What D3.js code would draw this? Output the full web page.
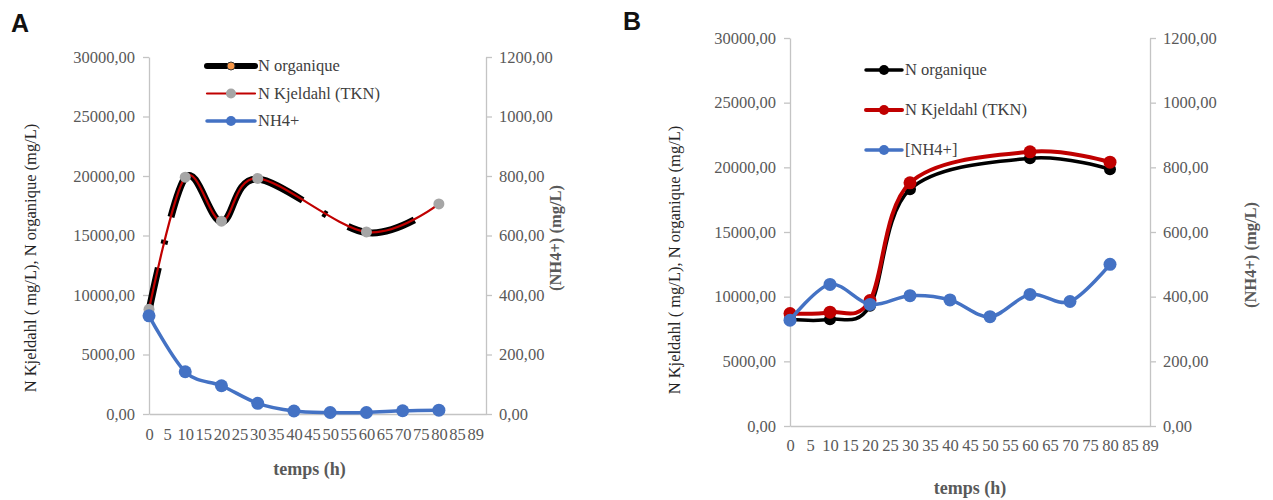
<!DOCTYPE html>
<html>
<head>
<meta charset="utf-8">
<script src="https://cdn.jsdelivr.net/npm/d3@7"></script>
<style>
  body { margin: 0; background: #fff; }
  svg text { font-family: "Liberation Serif", "Times New Roman", "DejaVu Serif", serif !important; }
  svg text.letter { font-family: "Liberation Sans", Arial, sans-serif !important; }
</style>
</head>
<body>
<svg id="svg" width="1273" height="500"></svg>
<script>
// tick labels of the time axis (evenly spaced, the last one reads 89)
const xLabels = ["0", "5", "10", "15", "20", "25", "30", "35", "40", "45", "50", "55", "60", "65", "70", "75", "80", "85", "89"];
const leftTicks = [0, 5000, 10000, 15000, 20000, 25000, 30000];
const rightTicks = [0, 200, 400, 600, 800, 1000, 1200];

// panel A
const timeA = [0, 10, 20, 30, 60, 80];
const tknA = [8800, 19900, 16200, 19800, 15300, 17650];
const orgA = [8700, 19850, 16150, 19750, 15250, 17600];
const timeNh4A = [0, 10, 20, 30, 40, 50, 60, 70, 80];
const nh4A = [330, 142, 95, 36, 10, 5, 5, 11, 13];

// panel B
const timeB = [0, 10, 20, 30, 60, 80];
const tknB = [8700, 8800, 9700, 18800, 21200, 20400];
const orgB = [8250, 8250, 9300, 18300, 20700, 19850];
const timeNh4B = [0, 10, 20, 30, 40, 50, 60, 70, 80];
const nh4B = [327, 438, 376, 403, 390, 338, 407, 385, 500];

const fmt = v => d3.format(".2f")(v).replace(".", ",");
const gridGrey = "#c4c4c4";
const labelGrey = "#595959";
const serif = "'Liberation Serif', 'Times New Roman', serif";

svg = d3.select("#svg");

function zip(ts, vs) {
    return ts.map((t, i) => ({ t: t, v: vs[i] }));
}

function panel_axes(p) {
    const g = svg.append("g");
    xScale = d3.scaleLinear().domain([0, p.xMax]).range([p.left, p.right]);
    yScale = d3.scaleLinear().domain([0, 30000]).range([p.bottom, p.top]);
    y2Scale = d3.scaleLinear().domain([0, 1200]).range([p.bottom, p.top]);

    const xAxis = g.append("g")
        .attr("transform", `translate(0, ${p.bottom})`)
        .call(d3.axisBottom(xScale)
            .tickValues(xLabels.map((d, i) => i * 5))
            .tickFormat((d, i) => xLabels[i])
            .tickSize(0).tickPadding(p.xPad));
    const yAxis = g.append("g")
        .attr("transform", `translate(${p.left}, 0)`)
        .call(d3.axisLeft(yScale).tickValues(leftTicks).tickFormat(fmt)
            .tickSize(6).tickSizeOuter(0).tickPadding(8));
    const y2Axis = g.append("g")
        .attr("transform", `translate(${p.right}, 0)`)
        .call(d3.axisRight(y2Scale).tickValues(rightTicks).tickFormat(fmt)
            .tickSize(6).tickSizeOuter(0).tickPadding(7));

    [xAxis, yAxis, y2Axis].forEach(a => {
        a.attr("font-family", serif);
        a.select(".domain").attr("stroke", gridGrey).attr("stroke-width", 1.3);
        a.selectAll(".tick line").attr("stroke", gridGrey).attr("stroke-width", 1.3);
        a.selectAll("text").attr("fill", labelGrey).attr("font-size", 16.5)
            .style("font-family", serif);
    });

    // axis titles
    g.append("text")
        .attr("transform", `translate(${p.leftTitleX}, ${p.leftTitleY}) rotate(-90)`)
        .attr("text-anchor", "middle").attr("font-size", 16.5).attr("fill", "#262626")
        .style("font-family", serif)
        .text("N Kjeldahl ( mg/L), N organique (mg/L)");
    g.append("text")
        .attr("transform", `translate(${p.rightTitleX}, ${p.rightTitleY}) rotate(-90)`)
        .attr("text-anchor", "middle").attr("font-size", 16.5).attr("font-weight", "bold")
        .attr("fill", labelGrey)
        .style("font-family", serif)
        .text("(NH4+) (mg/L)");
    g.append("text")
        .attr("x", (p.left + p.right) / 2 + p.xTitleShift).attr("y", p.xTitleY)
        .attr("text-anchor", "middle").attr("font-size", 18).attr("font-weight", "bold")
        .attr("fill", labelGrey)
        .style("font-family", serif)
        .text("temps (h)");
    g.append("text")
        .attr("class", "letter")
        .attr("x", p.letterX).attr("y", p.letterY)
        .attr("font-size", 25).attr("font-weight", "bold").attr("fill", "#111")
        .text(p.letter);
    return g;
}

function draw_series(g, data, scale, st) {
    const line = d3.line()
        .x(d => xScale(d.t))
        .y(d => scale(d.v))
        .curve(d3.curveCardinal.tension(0));
    g.append("path")
        .datum(data)
        .attr("fill", "none")
        .attr("stroke", st.color)
        .attr("stroke-width", st.width)
        .attr("stroke-linejoin", "round")
        .attr("stroke-linecap", st.cap || "round")
        .attr("stroke-dasharray", st.dash || null)
        .attr("d", line);
    if (st.r) {
        g.selectAll(null)
            .data(data)
            .join("circle")
            .attr("cx", d => xScale(d.t))
            .attr("cy", d => scale(d.v))
            .attr("r", st.r)
            .attr("fill", st.marker);
    }
}

function draw_legend(g, items, lg) {
    items.forEach((it, i) => {
        const y = lg.y + i * lg.step;
        g.append("line")
            .attr("x1", lg.x0).attr("x2", lg.x1).attr("y1", y).attr("y2", y)
            .attr("stroke", it.color).attr("stroke-width", it.width)
            .attr("stroke-linecap", "round");
        g.append("circle")
            .attr("cx", (lg.x0 + lg.x1) / 2).attr("cy", y).attr("r", it.r)
            .attr("fill", it.marker).attr("stroke", it.ring || "none").attr("stroke-width", 1);
        g.append("text")
            .attr("x", lg.x1 + 3).attr("y", y).attr("dy", "0.33em")
            .attr("font-size", 16.5).attr("fill", "#404040")
            .style("font-family", serif)
            .text(it.name);
    });
}

// ---- panel A
const pA = { left: 149, right: 486, top: 57, bottom: 414, xMax: 93, xPad: 14,
    leftTitleX: 36, leftTitleY: 258, rightTitleX: 561, rightTitleY: 238,
    xTitleY: 475, xTitleShift: -8, letter: "A", letterX: 11, letterY: 32 };
const gA = panel_axes(pA);
const stOrgA = { color: "#000", width: 7, cap: "butt", dash: "44,24,4,24,215,24,4,24,70,300" };
const stTknA = { color: "#c00000", width: 2.2, r: 5.5, marker: "#a6a6a6" };
const stNh4A = { color: "#4472c4", width: 3.5, r: 6.5, marker: "#4472c4" };
draw_series(gA, zip(timeA, orgA), yScale, stOrgA);
draw_series(gA, zip(timeA, tknA), yScale, stTknA);
draw_series(gA, zip(timeNh4A, nh4A), y2Scale, stNh4A);
draw_legend(gA, [
    { name: "N organique", color: "#000", width: 6, r: 4, marker: "#f79646", ring: "#333" },
    { name: "N Kjeldahl (TKN)", color: "#c00000", width: 2.2, r: 5, marker: "#a6a6a6" },
    { name: "NH4+", color: "#4472c4", width: 3.5, r: 5, marker: "#4472c4" }
], { x0: 207, x1: 255, y: 66, step: 27.5 });

// ---- panel B
const pB = { left: 790, right: 1150, top: 38, bottom: 426, xMax: 90, xPad: 13,
    leftTitleX: 680, leftTitleY: 260, rightTitleX: 1256, rightTitleY: 255,
    xTitleY: 494, xTitleShift: 0, letter: "B", letterX: 623, letterY: 30 };
const gB = panel_axes(pB);
draw_series(gB, zip(timeB, orgB), yScale, { color: "#000", width: 3.5, r: 6, marker: "#000" });
draw_series(gB, zip(timeB, tknB), yScale, { color: "#c00000", width: 4, r: 6.5, marker: "#c00000" });
draw_series(gB, zip(timeNh4B, nh4B), y2Scale, { color: "#4472c4", width: 3.5, r: 6.5, marker: "#4472c4" });
draw_legend(gB, [
    { name: "N organique", color: "#000", width: 3.5, r: 5, marker: "#000" },
    { name: "N Kjeldahl (TKN)", color: "#c00000", width: 4, r: 5, marker: "#c00000" },
    { name: "[NH4+]", color: "#4472c4", width: 3.5, r: 5, marker: "#4472c4" }
], { x0: 866, x1: 902, y: 70, step: 40 });
</script>
</body>
</html>
